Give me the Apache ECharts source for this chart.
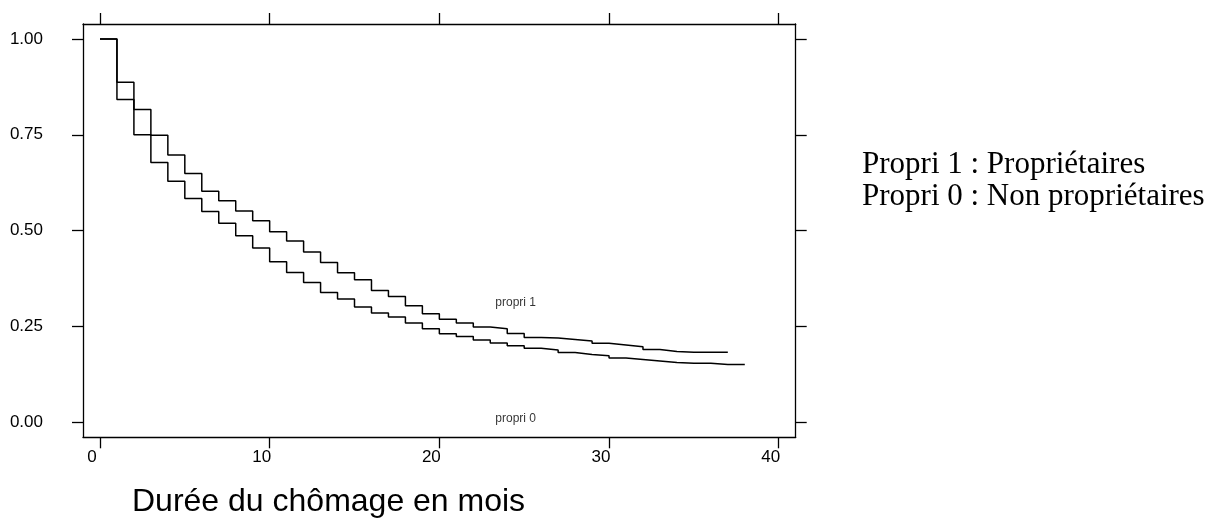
<!DOCTYPE html>
<html>
<head>
<meta charset="utf-8">
<script src="https://cdn.jsdelivr.net/npm/echarts@6/dist/echarts.min.js"></script>
<style>
html,body{margin:0;padding:0;background:#fff;}
#chart{width:1221px;height:520px;}
</style>
</head>
<body>
<div id="chart"></div>
<script>
// Durée (mois) et fonctions de survie estimées
var moisHaut = [0,1,2,3,4,5,6,7,8,9,10,11,12,13,14,15,16,17,18,19,20,21,22,23,24,25,26,27,28,29,30,31,32,33,34,35,36,37];
var survieHaut = [1.0,0.887,0.816,0.749,0.697,0.649,0.603,0.578,0.551,0.526,0.497,0.473,0.444,0.417,0.390,0.372,0.344,0.328,0.304,0.283,0.269,0.259,0.249,0.244,0.232,0.221,0.220,0.216,0.212,0.206,0.202,0.197,0.190,0.185,0.183,0.183,0.183,0.183];
var moisBas = [0,1,2,3,4,5,6,7,8,9,10,11,12,13,14,15,16,17,18,19,20,21,22,23,24,25,26,27,28,29,30,31,32,33,34,35,36,37,38];
var survieBas = [1.0,0.842,0.750,0.678,0.629,0.584,0.550,0.519,0.487,0.455,0.419,0.391,0.365,0.339,0.322,0.301,0.285,0.275,0.259,0.244,0.231,0.224,0.215,0.207,0.200,0.193,0.189,0.182,0.177,0.174,0.168,0.164,0.160,0.156,0.154,0.154,0.151,0.151,0.151];
var xTicks = [0,10,20,30,40];
var yTicks = [0,0.25,0.5,0.75,1];
var etiquettesCourbes = [[23.3,0.3126,'propri 1'],[23.3,0.009,'propri 0']];
var titreX = 'Durée du chômage en mois';
var legendeLignes = ['Propri 1 : Propriétaires','Propri 0 : Non propriétaires'];

var chart = echarts.init(document.getElementById('chart'), null, {renderer:'canvas'});
function pairs(xs, ys){ return xs.map(function(x,i){ return [x, ys[i]]; }); }
var axisLineStyle = {color:'#000', width:1.3};
var tickCommon = {show:true, inside:false, length:11, lineStyle:{color:'#000', width:1.3}};
var sans = '"Liberation Sans", Arial, sans-serif';
var serif = '"Liberation Serif", "Times New Roman", serif';

var option = {
  animation:false,
  backgroundColor:'#fff',
  grid:{left:83, top:24, right:425.3, bottom:82.7, containLabel:false},
  xAxis:[
    {type:'value', position:'bottom', min:-1, max:41,
     axisLine:{show:true, onZero:false, lineStyle:axisLineStyle},
     axisTick:Object.assign({customValues:xTicks}, tickCommon),
     axisLabel:{show:true, customValues:xTicks, fontSize:17, color:'#000', fontFamily:sans, margin:12, padding:[0,16,0,0]},
     splitLine:{show:false}},
    {type:'value', position:'top', min:-1, max:41,
     axisLine:{show:true, onZero:false, lineStyle:axisLineStyle},
     axisTick:Object.assign({customValues:xTicks}, tickCommon),
     axisLabel:{show:false},
     splitLine:{show:false}}
  ],
  yAxis:[
    {type:'value', position:'left', min:-0.039, max:1.039,
     axisLine:{show:true, onZero:false, lineStyle:axisLineStyle},
     axisTick:Object.assign({customValues:yTicks}, tickCommon),
     axisLabel:{show:true, customValues:yTicks, fontSize:17, color:'#000', fontFamily:sans, margin:40, padding:[6,0,0,0],
       formatter:function(v){ return Number(v).toFixed(2); }},
     splitLine:{show:false}},
    {type:'value', position:'right', min:-0.039, max:1.039,
     axisLine:{show:true, onZero:false, lineStyle:axisLineStyle},
     axisTick:Object.assign({customValues:yTicks}, tickCommon),
     axisLabel:{show:false},
     splitLine:{show:false}}
  ],
  series:[
    {type:'line', name:'propri 1', step:'end', data:pairs(moisHaut, survieHaut),
     showSymbol:false, symbol:'none', lineStyle:{color:'#000', width:1.5}, xAxisIndex:0, yAxisIndex:0},
    {type:'line', name:'propri 0', step:'end', data:pairs(moisBas, survieBas),
     showSymbol:false, symbol:'none', lineStyle:{color:'#000', width:1.5}, xAxisIndex:0, yAxisIndex:0},
    {type:'scatter', data:etiquettesCourbes, symbolSize:0, silent:true,
     label:{show:true, position:'right', distance:0, formatter:function(p){ return p.value[2]; },
       fontSize:12, color:'#000', fontFamily:sans}}
  ],
  graphic:[
    {type:'text', left:132, top:486, style:{text:titreX, font:'32px '+sans, fill:'#000'}},
    {type:'text', left:862, top:149, style:{text:legendeLignes[0], font:'31px '+serif, fill:'#000'}},
    {type:'text', left:862, top:181, style:{text:legendeLignes[1], font:'31px '+serif, fill:'#000'}}
  ]
};
chart.setOption(option);
</script>
</body>
</html>
